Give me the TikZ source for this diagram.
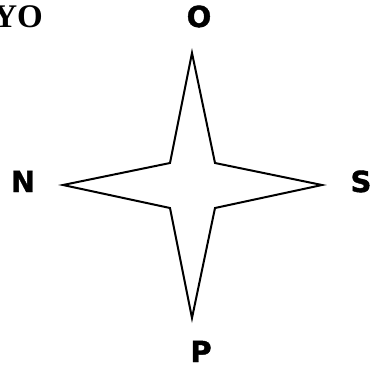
\documentclass[tikz,border=0pt]{standalone}
\usepackage{fontspec}
\usepackage{tikz}
\usetikzlibrary{positioning,calc}
\newfontfamily\pointfont[FakeBold=1.5]{DejaVu Sans Bold}
\newfontfamily\titlefont{Liberation Serif}
\tikzset{
    pointlabel/.style={font=\pointfont\fontsize{29}{29}\selectfont, inner sep=0pt, anchor=base},
    starline/.style={line width=2pt, line join=miter}
}

\begin{document}
\begin{tikzpicture}[x=1pt, y=-1pt]
    \useasboundingbox (0,0) rectangle (385,368);

    % --- Title (cut at the left edge) ---
    \node[font=\titlefont\bfseries\fontsize{33}{33}\selectfont, inner sep=0pt, anchor=base east] (title) at (43,27) {YO};

    % --- Four-pointed star ---
    \coordinate (tipO) at (192,53);
    \coordinate (tipS) at (322,185);
    \coordinate (tipP) at (192,318);
    \coordinate (tipN) at (63,185);
    \coordinate (cOS) at (215,163);
    \coordinate (cSP) at (215,208);
    \coordinate (cPN) at (170,208);
    \coordinate (cNO) at (170,163);
    \draw[starline] (tipO) -- (cOS) -- (tipS) -- (cSP) -- (tipP)
        -- (cPN) -- (tipN) -- (cNO) -- cycle;

    % --- Point labels ---
    \node[pointlabel] (labO) at (199,27) {O};
    \node[pointlabel] (labN) at (23,192) {N};
    \node[pointlabel] (labS) at (361,192) {S};
    \node[pointlabel] (labP) at (201,362) {P};
\end{tikzpicture}
\end{document}
